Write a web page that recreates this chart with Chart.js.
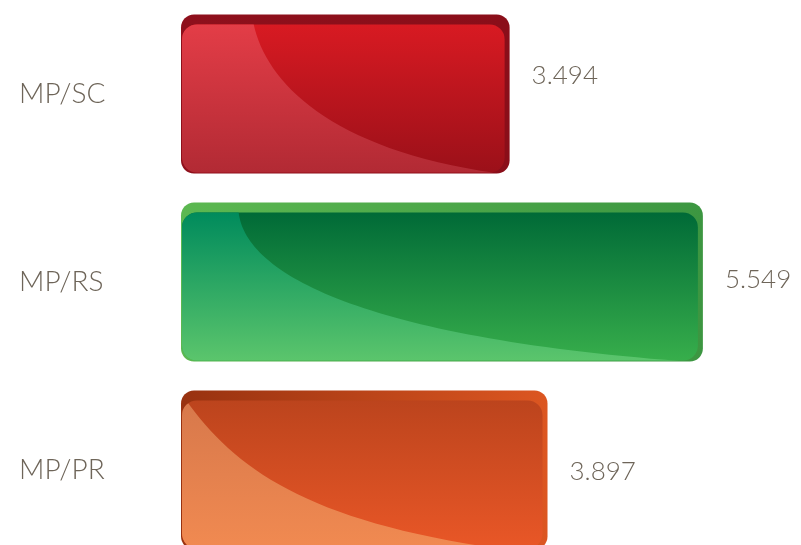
<!DOCTYPE html>
<html>
<head>
<meta charset="utf-8">
<script src="https://cdn.jsdelivr.net/npm/chart.js@4/dist/chart.umd.min.js"></script>
<style>
  html, body { margin: 0; padding: 0; background: #fff; overflow: hidden; }
  #wrap { position: relative; width: 801px; height: 564px; }
</style>
</head>
<body>
<div id="wrap"><canvas id="chart"></canvas></div>
<script>
// data
const categories = ['MP/SC', 'MP/RS', 'MP/PR'];
const values = [3.494, 5.549, 3.897];
const valueLabels = ['3.494', '5.549', '3.897'];

// glossy look for each bar: rim colours (left->right), body + sheen gradients (top->bottom),
// sheen edge as a bezier in fractions of the bar box: [sx, c1x, c1y, c2x, c2y, ex, ey]
const barStyles = [
  { rim: ['#8e101c', '#8a0e19'], body: ['#d81a22', '#9b1019'], sheen: ['#e33d47', '#b22a34'],
    curve: [0.22, 0.255, 0.415, 0.45, 0.855, 0.97, 1.0] },
  { rim: ['#5cb851', '#3c9641'], body: ['#006a37', '#37ae4b'], sheen: ['#008b5c', '#5bc56c'],
    curve: [0.11, 0.12, 0.45, 0.35, 0.85, 0.97, 1.0] },
  { rim: ['#983210', '#dc5621'], body: ['#bc441d', '#e95727'], sheen: ['#d7784b', '#f18a51'],
    curve: [0.01, 0.15, 0.5, 0.35, 0.85, 0.95, 1.02] }
];
const labelShift = [-18, -2, 2];
const textColor = '#6e6559';

const glossyBars = {
  id: 'glossyBars',
  afterDatasetsDraw(chart) {
    const ctx = chart.ctx;
    chart.getDatasetMeta(0).data.forEach((bar, i) => {
      const p = bar.getProps(['x', 'y', 'base', 'height'], true);
      const s = barStyles[i];
      const left = p.base, right = p.x;
      const top = p.y - p.height / 2, bottom = p.y + p.height / 2;
      const w = right - left, h = bottom - top;
      ctx.save();

      // outer rim
      let g = ctx.createLinearGradient(left, 0, right, 0);
      g.addColorStop(0, s.rim[0]);
      g.addColorStop(1, s.rim[1]);
      ctx.fillStyle = g;
      ctx.beginPath();
      ctx.roundRect(left, top, w, h, 13);
      ctx.fill();

      // body
      const il = left + 1, it = top + 10, ir = right - 5, ib = bottom - 1;
      g = ctx.createLinearGradient(0, it, 0, ib);
      g.addColorStop(0, s.body[0]);
      g.addColorStop(1, s.body[1]);
      ctx.fillStyle = g;
      ctx.beginPath();
      ctx.roundRect(il, it, ir - il, ib - it, 15);
      ctx.fill();

      // light sheen on the lower left
      ctx.clip();
      const c = s.curve;
      g = ctx.createLinearGradient(0, it, 0, ib);
      g.addColorStop(0, s.sheen[0]);
      g.addColorStop(1, s.sheen[1]);
      ctx.fillStyle = g;
      ctx.beginPath();
      ctx.moveTo(left - 2, it - 2);
      ctx.lineTo(left + c[0] * w, it - 2);
      ctx.bezierCurveTo(left + c[1] * w, top + c[2] * h, left + c[3] * w, top + c[4] * h,
                        left + c[5] * w, top + c[6] * h);
      ctx.lineTo(left + c[5] * w, bottom + 40);
      ctx.lineTo(left - 2, bottom + 40);
      ctx.closePath();
      ctx.fill();
      ctx.restore();
    });
  }
};

const valueText = {
  id: 'valueText',
  afterDatasetsDraw(chart) {
    const ctx = chart.ctx;
    ctx.save();
    ctx.font = '300 26px Lato';
    ctx.fillStyle = textColor;
    ctx.textAlign = 'left';
    ctx.textBaseline = 'middle';
    chart.getDatasetMeta(0).data.forEach((bar, i) => {
      ctx.fillText(valueLabels[i], bar.x + 22, bar.y + labelShift[i]);
    });
    ctx.restore();
  }
};

new Chart(document.getElementById('chart'), {
  type: 'bar',
  data: {
    labels: categories,
    datasets: [{
      data: values,
      backgroundColor: 'rgba(0,0,0,0)',
      borderWidth: 0,
      barPercentage: 0.846,
      categoryPercentage: 1
    }]
  },
  options: {
    indexAxis: 'y',
    responsive: true,
    maintainAspectRatio: false,
    animation: false,
    layout: { padding: { left: 19, right: 55.7, top: 0, bottom: 0 } },
    plugins: { legend: { display: false }, tooltip: { enabled: false } },
    scales: {
      x: { display: false, min: 0, max: 6 },
      y: {
        grid: { display: false },
        border: { display: false },
        ticks: {
          crossAlign: 'far',
          color: textColor,
          font: { family: 'Lato', size: 28, weight: '300' }
        },
        afterFit(scale) {
          scale.width = 162;
          scale.paddingTop = 0;
          scale.paddingBottom = 0;
        }
      }
    }
  },
  plugins: [glossyBars, valueText]
});
</script>
</body>
</html>
